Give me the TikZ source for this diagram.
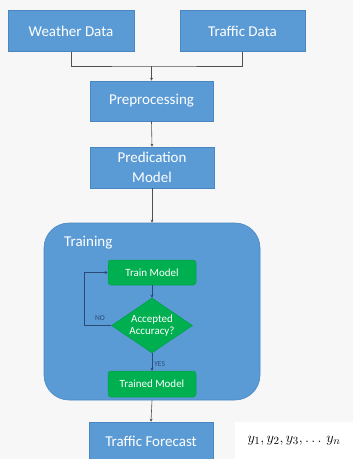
\documentclass[tikz,border=0pt]{standalone}
\usepackage{fontspec}
\setmainfont{Carlito}
\usetikzlibrary{shapes.geometric,arrows.meta}
\definecolor{boxblue}{HTML}{5B9BD5}
\definecolor{boxedge}{HTML}{4A87C2}
\definecolor{boxgreen}{HTML}{00B050}
\definecolor{greenedge}{HTML}{00A048}
\definecolor{bgpaper}{HTML}{F7F7F7}
\definecolor{wire}{HTML}{505050}
\definecolor{innerwire}{HTML}{2B4A78}
\tikzset{
  bluebox/.style={rectangle, fill=boxblue, draw=boxedge, line width=0.6pt,
    text=white, inner sep=0pt, align=center,
    font=\fontsize{15}{17}\selectfont},
  greenbox/.style={rectangle, rounded corners=3pt, fill=boxgreen, draw=greenedge,
    line width=0.5pt, text=white, inner sep=0pt, minimum width=88pt,
    font=\fontsize{11}{13}\selectfont},
  decision/.style={diamond, aspect=1.47, fill=boxgreen, draw=greenedge,
    line width=0.5pt, text=white, inner sep=0pt, align=center,
    minimum width=81pt, minimum height=55pt,
    font=\fontsize{11}{12.5}\selectfont},
  flow/.style={draw=wire, line width=0.6pt, -{Stealth[length=3pt,width=3pt]}},
  plainwire/.style={draw=wire, line width=0.6pt},
  innerflow/.style={draw=innerwire, line width=0.6pt, -{Stealth[length=3pt,width=3pt]}},
  tag/.style={text=innerwire, font=\fontsize{7.5}{9}\selectfont, inner sep=0pt}
}
\begin{document}
\begin{tikzpicture}[x=1pt,y=-1pt]
  \useasboundingbox (0,0) rectangle (353,459);
  \fill[bgpaper] (0,0) rectangle (353,459);

  % data sources and preprocessing
  \node[bluebox, minimum width=126pt, minimum height=41pt] (weather) at (71,31) {Weather Data};
  \node[bluebox, minimum width=125pt, minimum height=41pt] (traffic) at (242.5,31) {Traffic Data};
  \node[bluebox, minimum width=123pt, minimum height=40pt] (prep) at (151.5,101) {Preprocessing};
  \node[bluebox, minimum width=124pt, minimum height=41pt,
        font=\fontsize{15}{20}\selectfont] (pred) at (152,167.5) {Predication\\Model};

  % training block
  \node[rectangle, rounded corners=25pt, fill=boxblue, draw=boxedge, line width=0.6pt,
        minimum width=216pt, minimum height=177pt, inner sep=0pt] (training) at (152,311.5) {};
  \node[anchor=west, text=white, inner sep=0pt, font=\fontsize{15}{17}\selectfont]
        (traininglabel) at (64,243) {Training};
  \node[greenbox, minimum height=25pt] (train) at (152,272.5) {Train Model};
  \node[decision] (check) at (152,325.5) {Accepted\\Accuracy?};
  \node[greenbox, minimum height=26pt] (trained) at (152,384) {Trained Model};

  % output
  \node[bluebox, minimum width=124pt, minimum height=38pt] (forecast) at (151,441) {Traffic Forecast};
  \node[rectangle, fill=white, minimum width=120pt, minimum height=40pt, inner sep=0pt]
        (outbox) at (295,442) {};
  \node[font=\fontsize{15.5}{17}\selectfont] (outputs) at (294,441)
        {$y_1, y_2, y_3, \mathinner{\ldotp\ldotp\ldotp}\, y_n$};

  % connectors
  \coordinate (join) at (151.5,66);
  \draw[plainwire] (weather.south) |- (join) -| (traffic.south);
  \draw[flow] (join) -- (prep.north);
  \draw[flow] (prep.south) -- (pred.north);
  \draw[flow] (pred.south) -- (training.north);
  \draw[innerflow] (train.south) -- (check.north);
  \draw[innerflow] (check.south) -- node[tag, pos=0.6, anchor=west, xshift=2pt] {YES} (trained.north);
  \coordinate (loop) at (84,325.5);
  \draw[innerflow] (check.west) -- (loop) |- (train.west);
  \node[tag] (notag) at (100,318) {NO};
  \draw[flow] (training.south) -- (forecast.north);
\end{tikzpicture}
\end{document}
